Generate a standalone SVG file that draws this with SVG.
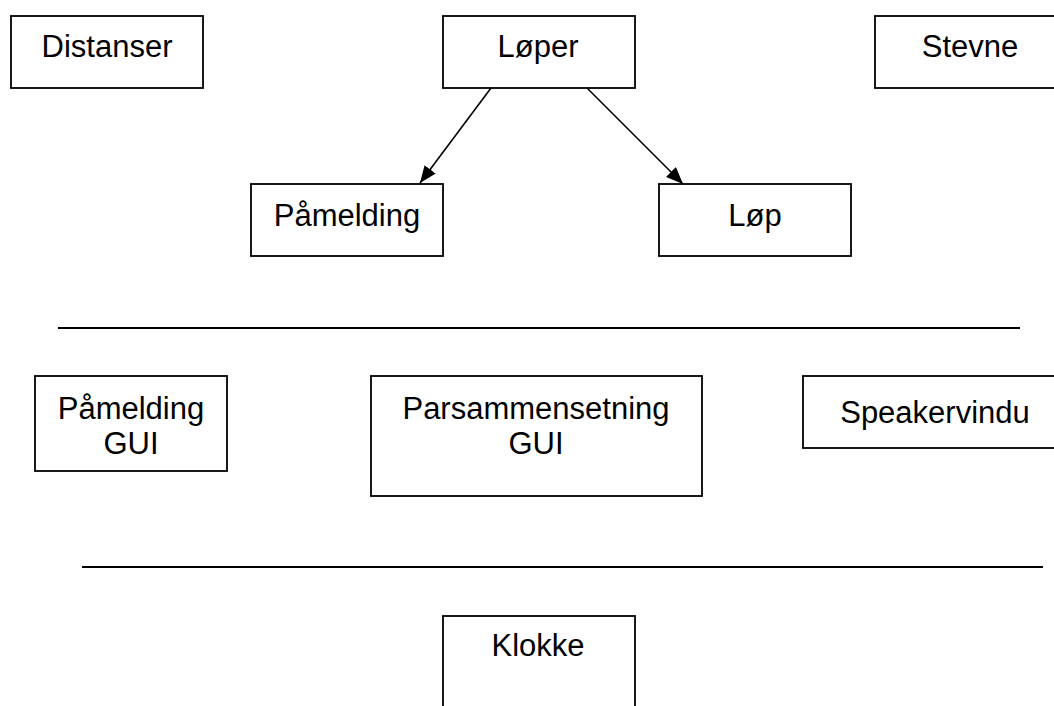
<svg xmlns="http://www.w3.org/2000/svg" width="1054" height="706" viewBox="0 0 1054 706">
  <style>
    .box { fill: #ffffff; stroke: #000000; stroke-width: 1.8; }
    .lbl { font-family: "Liberation Sans", Arial, sans-serif; font-size: 31px; fill: #000000; text-anchor: middle; }
    .edge { stroke: #000000; stroke-width: 1.6; fill: none; }
    .rule { stroke: #000000; stroke-width: 1.8; }
  </style>
  <defs>
    <marker id="arrow" viewBox="0 0 17 14" refX="17" refY="7" markerWidth="17" markerHeight="14" markerUnits="userSpaceOnUse" orient="auto">
      <path d="M0,0 L17,7 L0,14 Z" fill="#000000"/>
    </marker>
  </defs>
  <rect width="1054" height="706" fill="#ffffff"/>

  <!-- top row -->
  <g id="distanser">
    <rect class="box" x="11" y="16" width="192" height="72"/>
    <text class="lbl" x="107" y="57">Distanser</text>
  </g>
  <g id="loper">
    <rect class="box" x="443" y="16" width="192" height="72"/>
    <text class="lbl" x="538" y="57">Løper</text>
  </g>
  <g id="stevne">
    <rect class="box" x="875" y="16" width="192" height="72"/>
    <text class="lbl" x="970" y="57">Stevne</text>
  </g>

  <!-- second row -->
  <g id="pamelding">
    <rect class="box" x="251" y="184" width="192" height="72"/>
    <text class="lbl" x="347" y="226">Påmelding</text>
  </g>
  <g id="lop">
    <rect class="box" x="659" y="184" width="192" height="72"/>
    <text class="lbl" x="755" y="226">Løp</text>
  </g>

  <!-- connectors -->
  <g id="connectors">
    <line class="edge" x1="491" y1="88" x2="420" y2="183" marker-end="url(#arrow)"/>
    <line class="edge" x1="587" y1="88" x2="683" y2="184" marker-end="url(#arrow)"/>
  </g>

  <!-- separators -->
  <g id="separators">
    <line class="rule" x1="58" y1="328" x2="1020" y2="328"/>
    <line class="rule" x1="82" y1="567" x2="1043" y2="567"/>
  </g>

  <!-- GUI row -->
  <g id="pamelding-gui">
    <rect class="box" x="35" y="376" width="192" height="95"/>
    <text class="lbl" x="131" y="419">Påmelding</text>
    <text class="lbl" x="131" y="454">GUI</text>
  </g>
  <g id="parsammensetning-gui">
    <rect class="box" x="371" y="376" width="331" height="120"/>
    <text class="lbl" x="536" y="419">Parsammensetning</text>
    <text class="lbl" x="536" y="454">GUI</text>
  </g>
  <g id="speakervindu">
    <rect class="box" x="803" y="376" width="270" height="72"/>
    <text class="lbl" x="935" y="423">Speakervindu</text>
  </g>

  <!-- bottom -->
  <g id="klokke">
    <rect class="box" x="443" y="616" width="192" height="120"/>
    <text class="lbl" x="538" y="656">Klokke</text>
  </g>
</svg>
